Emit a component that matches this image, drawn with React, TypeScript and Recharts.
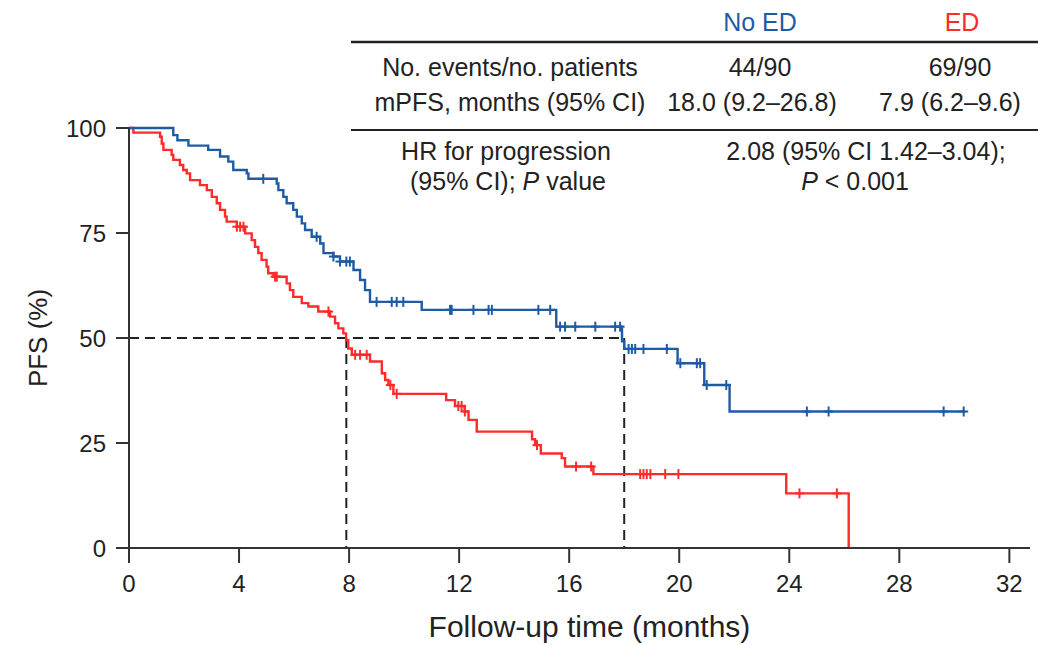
import React from 'react';
import { ComposedChart, Line, Scatter, XAxis, YAxis, ReferenceLine } from 'recharts';

// Kaplan–Meier steps: [time (months), PFS (%)]
const noEdSteps: [number, number][] = [
  [0, 100], [1.61, 98.3], [1.76, 97.1], [2.16, 95.8], [2.88, 94.8], [3.31, 93.2], [3.61, 92.0],
  [3.79, 90.0], [4.28, 89.2], [4.34, 87.9], [5.37, 86.8], [5.43, 85.2], [5.61, 83.6], [5.73, 82.1],
  [5.97, 80.5], [6.1, 78.9], [6.28, 77.3], [6.4, 75.7], [6.64, 74.1], [6.95, 72.5], [7.07, 70.2],
  [7.43, 69.4], [7.67, 68.2], [8.16, 66.2], [8.4, 63.8], [8.58, 61.4], [8.76, 58.6], [10.64, 56.7],
  [15.53, 52.7], [17.92, 49.2], [18.0, 47.4], [19.94, 44.0], [20.91, 38.8], [21.83, 32.5], [30.4, 32.5],
];
const edSteps: [number, number][] = [
  [0, 100], [0.16, 98.9], [1.13, 97.9], [1.19, 96.3], [1.25, 94.8], [1.55, 93.6], [1.61, 92.4],
  [1.85, 91.2], [1.97, 90.0], [2.1, 89.2], [2.22, 87.6], [2.58, 86.4], [2.83, 85.2], [3.01, 83.6],
  [3.19, 82.1], [3.31, 80.5], [3.49, 78.9], [3.55, 77.7], [3.92, 76.5], [4.22, 74.9], [4.46, 73.3],
  [4.58, 71.7], [4.7, 70.2], [4.82, 68.6], [5.0, 67.0], [5.06, 65.4], [5.25, 64.6], [5.73, 63.0],
  [5.85, 61.4], [5.97, 59.8], [6.28, 58.3], [6.52, 57.5], [6.88, 56.3], [7.31, 55.1], [7.49, 53.5],
  [7.61, 52.3], [7.79, 51.1], [7.89, 49.5], [7.97, 47.5], [8.1, 46.0], [8.76, 44.4], [9.19, 41.6],
  [9.31, 40.0], [9.43, 38.8], [9.61, 36.7], [11.53, 35.2], [11.85, 33.8], [12.2, 32.5], [12.34, 30.5],
  [12.64, 27.7], [14.65, 25.9], [14.76, 24.5], [14.97, 22.5], [15.73, 21.4], [15.85, 19.4],
  [16.88, 17.6], [23.89, 13.0], [26.16, 0],
];
// Censoring times (months)
const noEdCensors = [
  4.88, 6.82, 7.43, 7.67, 7.9, 8.03, 9.0, 9.55, 9.73, 9.97, 11.67, 11.73, 12.52, 13.07, 13.19, 14.88,
  15.31, 15.67, 15.85, 16.22, 16.95, 17.67, 17.85, 18.16, 18.28, 18.4, 18.7, 19.55, 20.04, 20.64,
  20.76, 21.0, 21.71, 24.64, 25.43, 29.61, 30.34,
];
const edCensors = [
  3.92, 4.04, 4.16, 5.31, 5.37, 7.25, 8.22, 8.4, 8.64, 9.5, 9.73, 11.97, 12.09, 12.21, 14.83,
  16.25, 16.8, 18.58, 18.7, 18.82, 18.95, 19.49, 19.97, 24.37, 25.73,
];
const medianNoEd = 18.0;
const medianEd = 7.9;
const xTicks = [0, 4, 8, 12, 16, 20, 24, 28, 32];
const yTicks = [0, 25, 50, 75, 100];

const tableHeader = ['No ED', 'ED'];
const rowEvents = ['No. events/no. patients', '44/90', '69/90'];
const rowMedian = ['mPFS, months (95% CI)', '18.0 (9.2\u201326.8)', '7.9 (6.2\u20139.6)'];

const BLUE = '#1f5ba5';
const RED = '#ff2a2a';
const INK = '#222';
const FONT = '"Liberation Sans", Arial, sans-serif';

const toRows = (s: [number, number][]) => s.map(([t, v]) => ({ t, s: v }));
const stepAt = (s: [number, number][], t: number) => {
  let v = s[0][1];
  for (const [tt, vv] of s) if (tt <= t) v = vv;
  return v;
};
const censorRows = (s: [number, number][], c: number[]) => c.map((t) => ({ t, s: stepAt(s, t) }));

const plus = (color: string) => (props: any) => {
  const { cx, cy } = props;
  if (cx == null || cy == null) return <g />;
  return (
    <g stroke={color} strokeWidth={2}>
      <line x1={cx - 4.5} y1={cy} x2={cx + 4.5} y2={cy} />
      <line x1={cx} y1={cy - 5} x2={cx} y2={cy + 5} />
    </g>
  );
};

export default function App() {
  return (
    <div style={{ position: 'absolute', left: 0, top: 0, width: 1038, height: 645, background: '#fff' }}>
      <ComposedChart
        width={1038}
        height={645}
        margin={{ top: 128, right: 8, bottom: 37, left: 59 }}
        style={{ fontFamily: FONT }}
      >
        <XAxis
          dataKey="t"
          type="number"
          domain={[0, 32.75]}
          ticks={xTicks}
          allowDataOverflow
          height={60}
          tickSize={15}
          tickMargin={12}
          axisLine={{ stroke: '#333', strokeWidth: 2 }}
          tickLine={{ stroke: '#333', strokeWidth: 2 }}
          tick={{ fontSize: 24, fill: INK, fontFamily: FONT }}
          label={{ value: 'Follow-up time (months)', position: 'bottom', offset: 8, dx: 10, fontSize: 30, fill: INK, fontFamily: FONT }}
        />
        <YAxis
          type="number"
          domain={[0, 100]}
          ticks={yTicks}
          width={70}
          tickSize={13}
          tickMargin={10}
          axisLine={{ stroke: '#333', strokeWidth: 2 }}
          tickLine={{ stroke: '#333', strokeWidth: 2 }}
          tick={{ fontSize: 24, fill: INK, fontFamily: FONT }}
          label={{ value: 'PFS (%)', angle: -90, position: 'center', dx: -56, fontSize: 26, fill: INK, fontFamily: FONT }}
        />
        <ReferenceLine segment={[{ x: 0, y: 50 }, { x: medianNoEd, y: 50 }]} stroke={INK} strokeWidth={2} strokeDasharray="10 6" />
        <ReferenceLine segment={[{ x: medianEd, y: 50 }, { x: medianEd, y: 0 }]} stroke={INK} strokeWidth={2} strokeDasharray="10 6" />
        <ReferenceLine segment={[{ x: medianNoEd, y: 50 }, { x: medianNoEd, y: 0 }]} stroke={INK} strokeWidth={2} strokeDasharray="10 6" />
        <Line data={toRows(edSteps)} dataKey="s" type="stepAfter" stroke={RED} strokeWidth={2.4} dot={false} isAnimationActive={false} />
        <Line data={toRows(noEdSteps)} dataKey="s" type="stepAfter" stroke={BLUE} strokeWidth={2.4} dot={false} isAnimationActive={false} />
        <Scatter data={censorRows(edSteps, edCensors)} dataKey="s" shape={plus(RED)} isAnimationActive={false} />
        <Scatter data={censorRows(noEdSteps, noEdCensors)} dataKey="s" shape={plus(BLUE)} isAnimationActive={false} />
      </ComposedChart>
      <svg width={1038} height={200} style={{ position: 'absolute', left: 0, top: 0, pointerEvents: 'none' }} fontFamily={FONT} fontSize={25}>
        <text x={760} y={31} textAnchor="middle" fill={BLUE}>{tableHeader[0]}</text>
        <text x={962} y={31} textAnchor="middle" fill={RED}>{tableHeader[1]}</text>
        <line x1={351} y1={42} x2={1038} y2={42} stroke="#222" strokeWidth={2.5} />
        <text x={510} y={76} textAnchor="middle" fill={INK}>{rowEvents[0]}</text>
        <text x={760} y={76} textAnchor="middle" fill={INK}>{rowEvents[1]}</text>
        <text x={960} y={76} textAnchor="middle" fill={INK}>{rowEvents[2]}</text>
        <text x={510} y={111} textAnchor="middle" fill={INK}>{rowMedian[0]}</text>
        <text x={752} y={111} textAnchor="middle" fill={INK}>{rowMedian[1]}</text>
        <text x={950} y={111} textAnchor="middle" fill={INK}>{rowMedian[2]}</text>
        <line x1={351} y1={130} x2={1038} y2={130} stroke="#222" strokeWidth={2} />
        <text x={506} y={160} textAnchor="middle" fill={INK}>HR for progression</text>
        <text x={508} y={190} textAnchor="middle" fill={INK}>(95% CI); <tspan fontStyle="italic">P</tspan> value</text>
        <text x={866} y={160} textAnchor="middle" fill={INK}>2.08 (95% CI 1.42–3.04);</text>
        <text x={855} y={190} textAnchor="middle" fill={INK}><tspan fontStyle="italic">P</tspan> &lt; 0.001</text>
      </svg>
    </div>
  );
}
